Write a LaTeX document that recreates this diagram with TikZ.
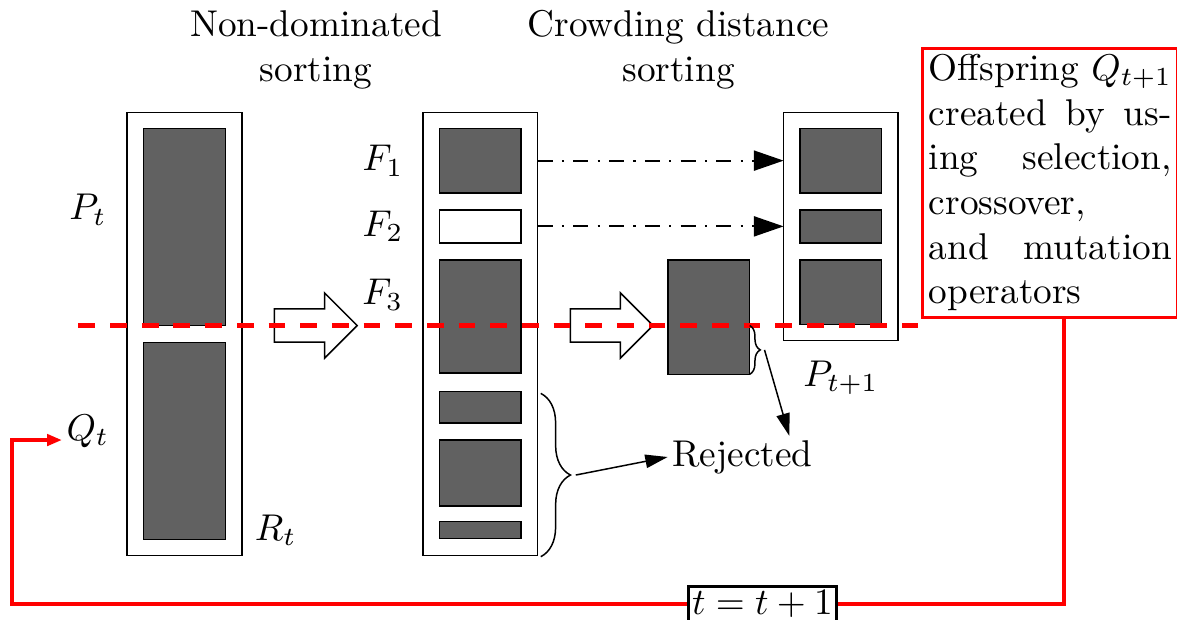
\documentclass[tikz,border=0pt]{standalone}
\usepackage{tikz}
\usetikzlibrary{
    arrows.meta,
    shapes.arrows,
    positioning,
    calc,
    decorations.pathreplacing
}
\tikzstyle{pool} = [
    rectangle,
    draw=black,
    fill=white,
    minimum width=1.08cm,
    inner sep=0pt,
    outer sep=0pt
]
\tikzstyle{front} = [
    rectangle,
    draw=black,
    fill=black!62,
    minimum width=0.77cm,
    inner sep=0pt,
    outer sep=0pt
]
\tikzstyle{emptyfront} = [front, fill=white]
\tikzstyle{flow} = [
    single arrow,
    draw=black,
    fill=white,
    minimum height=0.78cm,
    inner xsep=0pt,
    inner ysep=0.15cm,
    single arrow head extend=0.15cm
]
\tikzstyle{lbl} = [inner sep=1pt]
\tikzstyle{offspring} = [
    rectangle,
    draw=red,
    line width=0.8pt,
    text width=2.29cm,
    align=justify,
    inner sep=1.6pt
]
\tikzstyle{cutline} = [red, line width=1.2pt, dash pattern=on 4.5pt off 4pt]
\tikzstyle{select} = [
    line width=0.5pt,
    dash pattern=on 4pt off 2.5pt on 0.6pt off 2.5pt,
    -{Triangle[length=8pt, width=5.4pt]}
]
\tikzstyle{arrow} = [-{Triangle[length=6pt, width=3.6pt]}]
\tikzstyle{loopline} = [red, line width=1pt]
\tikzstyle{brace} = [decorate, decoration={brace, amplitude=0.28cm}]
\tikzstyle{smallbrace} = [decorate, decoration={brace, amplitude=0.1cm}]

\begin{document}
\begin{tikzpicture}
    \useasboundingbox (0,0) rectangle (11.10,-5.84);

    % Headings
    \node[align=center] (ndsort) at (2.98,-0.47) {Non-dominated\\sorting};
    \node[align=center] (cdsort) at (6.40,-0.47) {Crowding distance\\sorting};

    % Combined population R_t
    \node[pool, minimum height=4.18cm, anchor=north west] (rt) at (1.20,-1.06) {};
    \node[front, minimum height=1.86cm, anchor=north] (pt) at ([yshift=-0.15cm]rt.north) {};
    \node[front, minimum height=1.86cm, below=0.16cm of pt] (qt) {};
    \node[lbl] (ptl) at (0.83,-1.98) {$P_t$};
    \node[lbl, anchor=base west] (qtl) at (0.585,-4.15) {$Q_t$};
    \node[lbl] (rtl) at (2.60,-5.00) {$R_t$};

    % Fronts
    \node[pool, minimum height=4.18cm, anchor=north west] (nds) at (3.99,-1.06) {};
    \node[front, minimum height=0.61cm, anchor=north] (f1) at ([yshift=-0.15cm]nds.north) {};
    \node[emptyfront, minimum height=0.31cm, below=0.16cm of f1] (f2) {};
    \node[front, minimum height=1.07cm, below=0.16cm of f2] (f3) {};
    \node[front, minimum height=0.30cm, below=0.17cm of f3] (r1) {};
    \node[front, minimum height=0.62cm, below=0.16cm of r1] (r2) {};
    \node[front, minimum height=0.16cm, below=0.15cm of r2] (r3) {};
    \node[lbl, left=0.30cm of f1] (f1l) {$F_1$};
    \node[lbl, left=0.30cm of f2] (f2l) {$F_2$};
    \node[lbl] (f3l) at (3.61,-2.78) {$F_3$};

    % Split front
    \node[front, minimum height=1.08cm, anchor=north west] (cut) at (6.30,-2.45) {};

    % New population
    \node[pool, minimum height=2.15cm, anchor=north west] (next) at (7.39,-1.06) {};
    \node[front, minimum height=0.61cm, anchor=north] (n1) at ([yshift=-0.15cm]next.north) {};
    \node[front, minimum height=0.31cm, below=0.16cm of n1] (n2) {};
    \node[front, minimum height=0.61cm, below=0.16cm of n2] (n3) {};
    \node[lbl, below=0.15cm of next] (nextl) {$P_{t+1}$};

    % Sorting arrows
    \node[flow] (a1) at (2.90,-3.07) {};
    \node[flow] (a2) at (5.69,-3.07) {};

    % Cut line
    \draw[cutline] (0.74,-3.07) -- (8.66,-3.07);

    % Selected fronts
    \draw[select] (f1 -| nds.east) -- (f1 -| next.west);
    \draw[select] (f2 -| nds.east) -- (f2 -| next.west);

    % Rejected
    \node[lbl] (rej) at (7.00,-4.31) {Rejected};
    \draw[brace] (5.10,-3.71) -- (5.10,-5.25) coordinate[midway, xshift=0.33cm] (rtip);
    \draw[smallbrace] (cut.east |- pt.south) -- (cut.south east) coordinate[midway, xshift=0.14cm] (ctip);
    \draw[arrow] (rtip) -- (rej.west);
    \draw[arrow] (ctip) -- ([xshift=-0.26cm]rej.north east);

    % Offspring and loop
    \node[offspring, anchor=north west] (off) at (8.69,-0.44) {Offspring $Q_{t+1}$ created by us\-ing selection, crossover,\\ and mutation operators};
    \node[draw, thick, inner sep=1pt, anchor=north] (tinc) at (7.19,-5.52) {$t=t+1$};
    \draw[loopline] ([xshift=0.13cm]off.south) |- (tinc.east);
    \draw[loopline, -{Triangle[length=4pt, width=3pt]}] (tinc.west) -| (0.11,-4.15) -- (qtl.base west);
\end{tikzpicture}
\end{document}
